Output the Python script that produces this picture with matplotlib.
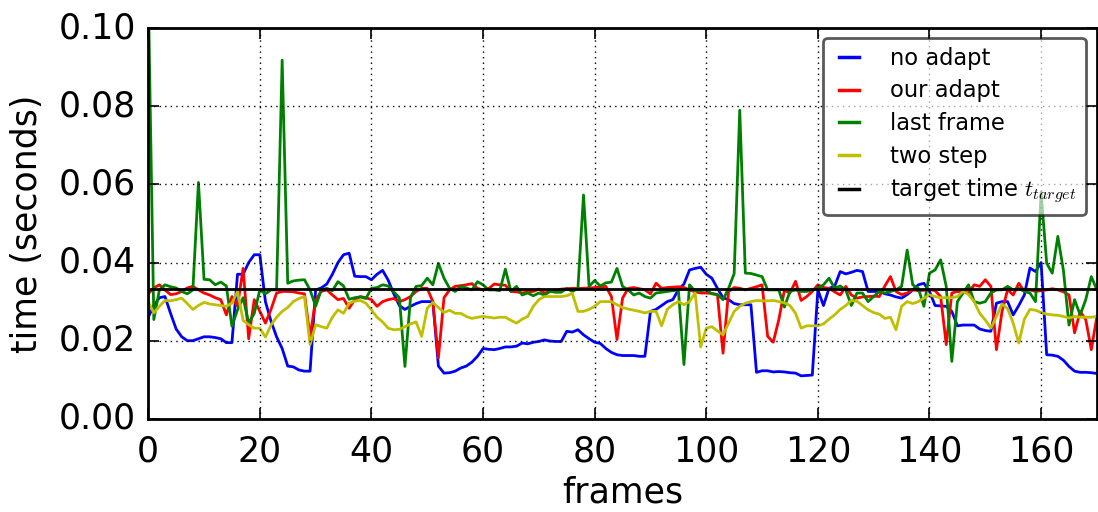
import matplotlib
matplotlib.use("Agg")
import matplotlib.pyplot as plt
import numpy as np

plt.style.use("classic")
plt.rcParams["mathtext.fontset"] = "cm"

frames = np.arange(171)
target_time = 1.0 / 30.0

no_adapt = [
    0.026, 0.029, 0.031, 0.0313, 0.027, 0.023, 0.021, 0.020, 0.020, 0.0205,
    0.021, 0.021, 0.0208, 0.0205, 0.0195, 0.0195, 0.037, 0.037, 0.040, 0.042,
    0.042, 0.030, 0.025, 0.021, 0.018, 0.0135, 0.0133, 0.0125, 0.0122, 0.0122,
    0.033, 0.0335, 0.0345, 0.037, 0.040, 0.042, 0.0424, 0.0365, 0.0364, 0.0364,
    0.0356, 0.037, 0.038, 0.0355, 0.032, 0.029, 0.028, 0.0288, 0.0295, 0.030,
    0.030, 0.030, 0.0135, 0.0117, 0.0118, 0.0122, 0.013, 0.0135, 0.0145, 0.016,
    0.018, 0.0178, 0.0177, 0.018, 0.0184, 0.0184, 0.0186, 0.0194, 0.0192, 0.0196,
    0.0198, 0.0202, 0.0199, 0.0198, 0.0198, 0.0224, 0.0222, 0.0228, 0.0215, 0.0205,
    0.0196, 0.0193, 0.018, 0.017, 0.0164, 0.0162, 0.0162, 0.0162, 0.016, 0.016,
    0.0275, 0.028, 0.029, 0.030, 0.0305, 0.033, 0.0345, 0.0381, 0.0385, 0.0388,
    0.037, 0.036, 0.0334, 0.031, 0.0305, 0.0295, 0.0292, 0.0292, 0.0292, 0.0119,
    0.0123, 0.0123, 0.012, 0.0121, 0.012, 0.0118, 0.0117, 0.011, 0.0111, 0.0112,
    0.033, 0.029, 0.0334, 0.0339, 0.0377, 0.0371, 0.0375, 0.038, 0.0377, 0.0326,
    0.0326, 0.0326, 0.032, 0.0317, 0.0312, 0.0309, 0.0318, 0.033, 0.0343, 0.0347,
    0.0326, 0.029, 0.0289, 0.0288, 0.0275, 0.0238, 0.024, 0.024, 0.024, 0.023,
    0.0226, 0.0224, 0.0296, 0.030, 0.030, 0.0266, 0.029, 0.0317, 0.0386, 0.0377,
    0.040, 0.0164, 0.0163, 0.016, 0.015, 0.0134, 0.0122, 0.0119, 0.0119, 0.0118,
    0.0116,
]

our_adapt = [
    0.032, 0.0335, 0.0343, 0.033, 0.0318, 0.032, 0.0326, 0.0335, 0.0339, 0.033,
    0.0322, 0.0317, 0.031, 0.0305, 0.0266, 0.0313, 0.0288, 0.0385, 0.0205, 0.0305,
    0.0275, 0.0245, 0.028, 0.0322, 0.0326, 0.0326, 0.0325, 0.0322, 0.032, 0.0211,
    0.0305, 0.0326, 0.033, 0.0317, 0.0305, 0.0308, 0.0283, 0.0305, 0.0313, 0.031,
    0.0305, 0.0288, 0.030, 0.0305, 0.0308, 0.030, 0.0305, 0.0313, 0.0326, 0.0334,
    0.0334, 0.030, 0.0156, 0.031, 0.033, 0.0339, 0.0341, 0.0343, 0.0346, 0.0334,
    0.033, 0.0333, 0.0345, 0.0343, 0.0342, 0.0326, 0.0325, 0.0322, 0.0325, 0.0326,
    0.0332, 0.0322, 0.0326, 0.0327, 0.0332, 0.0333, 0.0334, 0.0334, 0.0334, 0.0335,
    0.0336, 0.0337, 0.0339, 0.0313, 0.0203, 0.0309, 0.0334, 0.0336, 0.0333, 0.033,
    0.032, 0.0347, 0.0334, 0.0336, 0.0337, 0.0338, 0.0336, 0.033, 0.0325, 0.0322,
    0.0322, 0.0321, 0.0318, 0.0168, 0.0326, 0.0336, 0.0334, 0.033, 0.0334, 0.0338,
    0.0343, 0.0211, 0.0196, 0.0254, 0.0329, 0.0322, 0.0352, 0.0303, 0.0313, 0.0326,
    0.0343, 0.0336, 0.0334, 0.0325, 0.0317, 0.0339, 0.0317, 0.0309, 0.0312, 0.0313,
    0.0314, 0.0313, 0.034, 0.0364, 0.0326, 0.0318, 0.0322, 0.033, 0.0328, 0.0329,
    0.0331, 0.0328, 0.0313, 0.019, 0.0322, 0.0326, 0.0325, 0.0322, 0.0343, 0.0339,
    0.0356, 0.0339, 0.0177, 0.0275, 0.0331, 0.0317, 0.0347, 0.0326, 0.033, 0.0326,
    0.0328, 0.033, 0.0333, 0.033, 0.0325, 0.0317, 0.022, 0.0275, 0.0254, 0.0177,
    0.0262,
]

last_frame = [
    0.11, 0.0254, 0.033, 0.0343, 0.0338, 0.0335, 0.0326, 0.032, 0.033, 0.0605,
    0.0357, 0.0356, 0.0343, 0.035, 0.034, 0.0237, 0.0279, 0.031, 0.0245, 0.027,
    0.033, 0.032, 0.033, 0.033, 0.0918, 0.0347, 0.0353, 0.0355, 0.0356, 0.033,
    0.0288, 0.033, 0.0334, 0.0328, 0.0351, 0.034, 0.0306, 0.031, 0.0312, 0.0308,
    0.0334, 0.0336, 0.0343, 0.034, 0.0325, 0.031, 0.0134, 0.031, 0.0339, 0.0341,
    0.036, 0.0343, 0.0398, 0.036, 0.0334, 0.0326, 0.0339, 0.0335, 0.033, 0.0351,
    0.0343, 0.033, 0.033, 0.0328, 0.0383, 0.0326, 0.0339, 0.0317, 0.0322, 0.0315,
    0.0322, 0.0317, 0.0326, 0.0324, 0.0324, 0.0334, 0.0326, 0.0334, 0.0573, 0.0339,
    0.0354, 0.034, 0.0348, 0.035, 0.0385, 0.0339, 0.033, 0.0317, 0.0322, 0.0313,
    0.0309, 0.0322, 0.0324, 0.0326, 0.0328, 0.033, 0.0139, 0.0343, 0.0326, 0.0328,
    0.033, 0.032, 0.0318, 0.0305, 0.0334, 0.0372, 0.079, 0.0373, 0.0372, 0.0368,
    0.0364, 0.033, 0.033, 0.033, 0.0286, 0.0326, 0.033, 0.0326, 0.0326, 0.033,
    0.0334, 0.0343, 0.036, 0.0334, 0.034, 0.033, 0.029, 0.0322, 0.0322, 0.030,
    0.0313, 0.0326, 0.0322, 0.0326, 0.033, 0.0339, 0.0432, 0.0343, 0.0334, 0.0288,
    0.0373, 0.0381, 0.0407, 0.0339, 0.0147, 0.030, 0.0322, 0.0343, 0.030, 0.0296,
    0.030, 0.0322, 0.033, 0.033, 0.0339, 0.033, 0.0334, 0.0326, 0.0322, 0.030,
    0.058, 0.0398, 0.0373, 0.0467, 0.038, 0.024, 0.0305, 0.0266, 0.0305, 0.0364,
    0.033,
]

two_step = [
    0.030, 0.0271, 0.0288, 0.0303, 0.0302, 0.0305, 0.0309, 0.0295, 0.028, 0.029,
    0.0298, 0.0294, 0.0292, 0.029, 0.0288, 0.0296, 0.0326, 0.0252, 0.0241, 0.0232,
    0.0232, 0.0209, 0.024, 0.026, 0.0275, 0.0285, 0.030, 0.0308, 0.0313, 0.019,
    0.0241, 0.0236, 0.0232, 0.026, 0.0279, 0.027, 0.0296, 0.0301, 0.0303, 0.0296,
    0.0279, 0.026, 0.0248, 0.0232, 0.0228, 0.0229, 0.0236, 0.0243, 0.0248, 0.0211,
    0.0283, 0.0298, 0.0285, 0.0272, 0.0278, 0.027, 0.027, 0.0262, 0.0257, 0.026,
    0.0262, 0.026, 0.0258, 0.026, 0.026, 0.0252, 0.0245, 0.0255, 0.0262, 0.0288,
    0.0305, 0.0313, 0.0313, 0.0313, 0.0313, 0.0315, 0.0321, 0.0275, 0.0275, 0.028,
    0.0288, 0.030, 0.030, 0.030, 0.0292, 0.0285, 0.0281, 0.0278, 0.0275, 0.0271,
    0.0275, 0.0275, 0.0238, 0.028, 0.0292, 0.030, 0.0292, 0.030, 0.0322, 0.0184,
    0.0232, 0.0236, 0.0225, 0.0215, 0.0245, 0.0275, 0.0288, 0.0296, 0.030, 0.0303,
    0.0302, 0.0302, 0.0303, 0.030, 0.0297, 0.029, 0.027, 0.0232, 0.0238, 0.0238,
    0.0238, 0.0243, 0.0255, 0.0266, 0.028, 0.029, 0.0303, 0.0301, 0.029, 0.0279,
    0.0272, 0.0268, 0.0257, 0.026, 0.0228, 0.0288, 0.030, 0.0295, 0.030, 0.0309,
    0.0317, 0.0313, 0.031, 0.031, 0.031, 0.0313, 0.0326, 0.0318, 0.030, 0.027,
    0.0253, 0.0232, 0.0262, 0.0294, 0.0282, 0.0245, 0.0194, 0.0255, 0.028, 0.0278,
    0.0272, 0.0268, 0.0266, 0.0265, 0.0262, 0.0258, 0.0262, 0.026, 0.026, 0.026,
    0.0262,
]

fig = plt.figure(figsize=(10.98, 5.12), dpi=100, facecolor="white")
ax = fig.add_axes([0.135, 0.182, 0.864, 0.763])

lw = 2.0
ax.plot(frames, no_adapt, color="b", lw=lw, label="no adapt")
ax.plot(frames, our_adapt, color="r", lw=lw, label="our adapt")
ax.plot(frames, last_frame, color="g", lw=lw, label="last frame")
ax.plot(frames, two_step, color="y", lw=lw, label="two step")
ax.axhline(target_time, color="k", lw=lw, label="target time $t_{target}$")

ax.set_xlim(0, 170)
ax.set_ylim(0, 0.10)
ax.set_xticks(np.arange(0, 161, 20))
ax.set_yticks(np.arange(0, 0.101, 0.02))
ax.set_yticklabels(["%.2f" % v for v in np.arange(0, 0.101, 0.02)])
ax.tick_params(labelsize=25, width=1.2, length=8)
ax.tick_params(axis="x", pad=11)
ax.tick_params(axis="y", pad=9)
ax.grid(True, color="k", linestyle=":", linewidth=1.0)
for s in ax.spines.values():
    s.set_linewidth(2)

ax.set_xlabel("frames", fontsize=25, labelpad=5)
ax.set_ylabel("time (seconds)", fontsize=25, labelpad=10)

leg = ax.legend(loc="upper right", fontsize=16.3, fancybox=True,
                bbox_to_anchor=(0.988, 0.975), borderaxespad=0,
                handlelength=1.45, borderpad=0.4, labelspacing=0.42,
                handletextpad=1.1, framealpha=0.65)
leg.get_frame().set_edgecolor("black")
leg.get_frame().set_linewidth(2)
for h in leg.get_lines():
    h.set_linewidth(2.5)

fig.savefig("out.png", dpi=100, facecolor="white")
